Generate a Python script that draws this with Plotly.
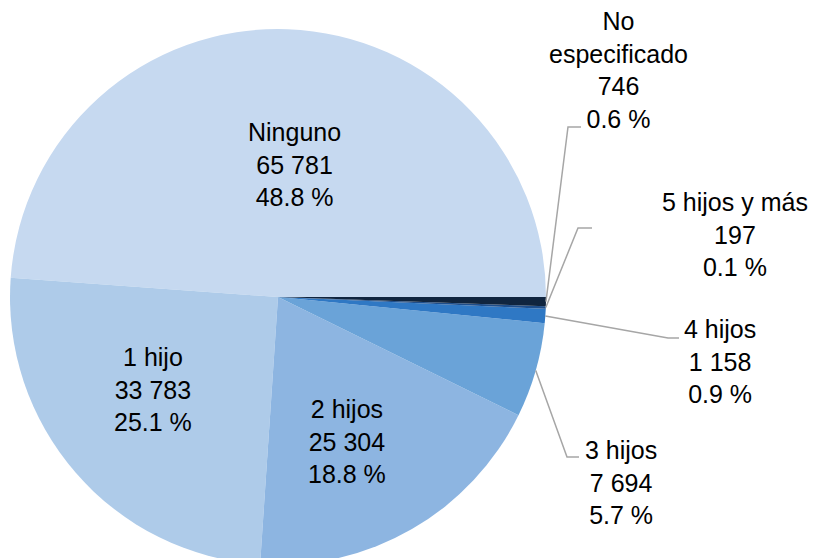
import math
import plotly.graph_objects as go

categorias = ["Ninguno", "1 hijo", "2 hijos", "3 hijos", "4 hijos", "5 hijos y más", "No especificado"]
valores = [65781, 33783, 25304, 7694, 1158, 197, 746]
porcentajes = ["48.8 %", "25.1 %", "18.8 %", "5.7 %", "0.9 %", "0.1 %", "0.6 %"]
colores = ["#C6D9F0", "#AECBE9", "#8DB5E1", "#6AA3D8", "#2F78C4", "#1F4F8C", "#10253F"]

W, H = 817, 572
CX, CY, R = 278, 297, 268  # pie centre / radius in pixels


def px(x):
    return x / W


def py(y):
    return 1 - y / H


total = sum(valores)
# plotly places the first slice clockwise from `rotation`, then the rest go counterclockwise;
# put the end of "Ninguno" at 3 o'clock
rotacion = 90 - valores[0] / total * 360

fig = go.Figure(go.Pie(
    labels=categorias,
    values=valores,
    sort=False,
    direction="counterclockwise",
    rotation=rotacion,
    marker=dict(colors=colores, line=dict(width=0)),
    textinfo="none",
    hoverinfo="label+value+percent",
    domain=dict(x=[px(CX - R), px(CX + R)], y=[py(CY + R), py(CY - R)]),
    showlegend=False,
))

# label placement (layout): centre of text block in pixels, and leader line elbow/end
pos_texto = {
    "Ninguno": (294, 165),
    "1 hijo": (153, 390),
    "2 hijos": (347, 441),
    "3 hijos": (621, 482),
    "4 hijos": (720, 361),
    "5 hijos y más": (735, 234),
    "No especificado": (618, 70),
}
guias = {
    "3 hijos": [(567, 457), (579, 457)],
    "4 hijos": [(668, 338), (679, 338)],
    "5 hijos y más": [(578, 228), (592, 228)],
    "No especificado": [(568, 127), (581, 127)],
}

acum = 0
for cat, val, pct in zip(categorias, valores, porcentajes):
    mid = (acum + val / 2) / total * 2 * math.pi
    acum += val
    etiqueta = cat if cat != "No especificado" else "No<br>especificado"
    texto = f"{etiqueta}<br>{val:,}".replace(",", " ") + f"<br>{pct}"
    tx, ty = pos_texto[cat]
    fig.add_annotation(
        x=px(tx), y=py(ty), xref="paper", yref="paper",
        text=texto, showarrow=False, xanchor="center", yanchor="middle",
        font=dict(family="Liberation Sans, Arial", size=25, color="#000000"),
    )
    if cat in guias:
        sx = CX + R * math.cos(mid)
        sy = CY - R * math.sin(mid)
        pts = [(sx, sy)] + guias[cat]
        path = "M " + " L ".join(f"{px(a)},{py(b)}" for a, b in pts)
        fig.add_shape(type="path", path=path, xref="paper", yref="paper",
                      line=dict(color="#A6A6A6", width=1.5))

fig.update_layout(
    width=W,
    height=H,
    margin=dict(l=0, r=0, t=0, b=0),
    paper_bgcolor="#FFFFFF",
    plot_bgcolor="#FFFFFF",
)

fig.write_html(
    "out.html",
    config={"displayModeBar": False},
    post_script="document.body.style.margin='0';document.body.style.overflow='hidden';"
                "document.documentElement.style.overflow='hidden';",
)
